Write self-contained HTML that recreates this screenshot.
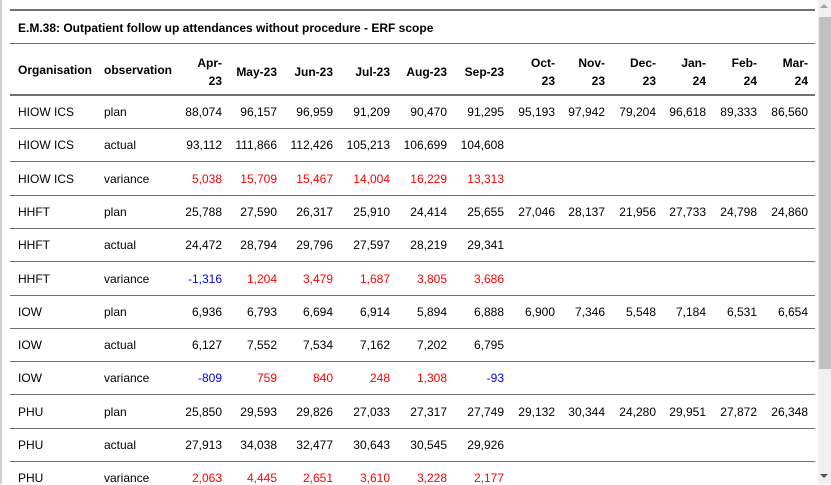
<!DOCTYPE html>
<html><head><meta charset="utf-8"><style>
body{margin:0;width:831px;height:484px;overflow:hidden;background:#fff;font-family:"Liberation Sans",Arial,sans-serif;font-size:12px;color:#000;position:relative}
.ab{position:absolute;white-space:nowrap}
.hl{position:absolute;left:10px;width:805px;background:#707070}
.r{text-align:right}
.b{font-weight:bold}
</style></head><body>
<div class="ab" style="left:0;top:0;width:2px;height:484px;background:#d0d0d0"></div>
<div class="hl" style="top:9px;height:2px"></div>
<div class="ab b" style="left:18px;top:21px">E.M.38: Outpatient follow up attendances without procedure - ERF scope</div>
<div class="hl" style="top:43px;height:1px"></div>
<div class="hl" style="top:94px;height:2px"></div>
<div id="tbl"></div>
<div class="ab" style="left:818px;top:0;width:13px;height:484px;background:#f0f0f0"></div>
<div class="ab" style="left:819px;top:17px;width:12px;height:352px;background:#c1c1c1"></div>
<div class="ab" style="left:820px;top:4px;width:0;height:0;border-left:4px solid transparent;border-right:4px solid transparent;border-bottom:4px solid #a0a0a0"></div>
<div class="ab" style="left:820px;top:474px;width:0;height:0;border-left:4px solid transparent;border-right:4px solid transparent;border-top:4px solid #505050"></div>
<script>
const months=[["Apr-","23"],["May-23"],["Jun-23"],["Jul-23"],["Aug-23"],["Sep-23"],["Oct-","23"],["Nov-","23"],["Dec-","23"],["Jan-","24"],["Feb-","24"],["Mar-","24"]];
const orgs=["HIOW ICS","HIOW ICS","HIOW ICS","HHFT","HHFT","HHFT","IOW","IOW","IOW","PHU","PHU","PHU"];
const obs=["plan","actual","variance","plan","actual","variance","plan","actual","variance","plan","actual","variance"];
const values=[
[88074,96157,96959,91209,90470,91295,95193,97942,79204,96618,89333,86560],
[93112,111866,112426,105213,106699,104608],
[5038,15709,15467,14004,16229,13313],
[25788,27590,26317,25910,24414,25655,27046,28137,21956,27733,24798,24860],
[24472,28794,29796,27597,28219,29341],
[-1316,1204,3479,1687,3805,3686],
[6936,6793,6694,6914,5894,6888,6900,7346,5548,7184,6531,6654],
[6127,7552,7534,7162,7202,6795],
[-809,759,840,248,1308,-93],
[25850,29593,29826,27033,27317,27749,29132,30344,24280,29951,27872,26348],
[27913,34038,32477,30643,30545,29926],
[2063,4445,2651,3610,3228,2177]];
const colRight=[222,277,333,390,447,504,555,605,656,706,757,808];
const t=document.getElementById('tbl');
function add(txt,style,cls){const d=document.createElement('div');d.className='ab '+(cls||'');d.textContent=txt;d.style.cssText=style;t.appendChild(d);return d;}
let e=add('Organisation','left:18px;top:63px','b');


e=add('observation','left:104px;top:63px','b');


months.forEach((m,i)=>{
  const d=document.createElement('div');d.className='ab b r';
  d.style.cssText='right:'+(831-colRight[i])+'px;top:'+(m.length>1?54:63)+'px;line-height:18px';
  d.innerHTML=m.join('<br>');
  
  
  t.appendChild(d);
});
const fmt=v=>(v<0?'-':'')+Math.abs(v).toLocaleString('en-US');
for(let r=0;r<orgs.length;r++){
  const y=105+r*33.3;
  let a=add(orgs[r],'left:18px;top:'+y+'px');
  
  
  a=add(obs[r],'left:104px;top:'+y+'px');
  
  
  values[r].forEach((v,i)=>{
    let col='#000';
    if(obs[r]==='variance')col=v<0?'#0000ff':'#ff0000';
    const c=add(fmt(v),'right:'+(831-colRight[i])+'px;top:'+y+'px;color:'+col,'r');
    
    
  });
  if(r<orgs.length-1){
    const l=document.createElement('div');l.className='hl';l.style.cssText='top:'+Math.round(128+r*33.3)+'px;height:1px';
    
    
    t.appendChild(l);
  }
}
</script>
</body></html>
